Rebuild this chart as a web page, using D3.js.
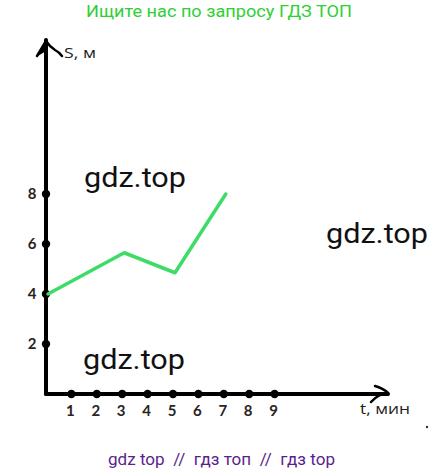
<!DOCTYPE html>
<html>
<head>
<meta charset="utf-8">
<script src="https://cdn.jsdelivr.net/npm/d3@7"></script>
<style>
  html, body { margin: 0; padding: 0; background: #fff; }
  svg { display: block; }
</style>
</head>
<body>
<svg id="chart" width="447" height="473"></svg>
<script>
// ---- data ----
const xTickValues = [1, 2, 3, 4, 5, 6, 7, 8, 9];
const xTickLabels = ["1", "2", "3", "4", "5", "6", "7", "8", "9"];
const yTickValues = [2, 4, 6, 8];
const yTickLabels = ["2", "4", "6", "8"];
const seriesT = [0, 3, 5, 7];
const seriesS = [4, 5.65, 4.85, 8];
const titleText = "Ищите нас по запросу ГДЗ ТОП";
const footerText = "gdz top  //  гдз топ  //  гдз top";
const watermarkText = "gdz.top";
const xAxisLabel = "t, мин";
const yAxisLabel = "S, м";

// ---- layout ----
const svg = d3.select("#chart");
const ox = 46, oy = 394;
const x = d3.scaleLinear().domain([0, 9]).range([ox, ox + 9 * 25.4]);
const y = d3.scaleLinear().domain([0, 8]).range([oy, oy - 8 * 25]);

// title
svg.append("text").attr("x", 86).attr("y", 17)
  .attr("font-family", "Roboto").attr("font-size", 17).attr("fill", "#2fcf35")
  .attr("textLength", 266).attr("lengthAdjust", "spacingAndGlyphs")
  .text(titleText);

// watermarks
[[84, 187], [326, 243], [83, 369]].forEach(([wx, wy]) => {
  svg.append("text").attr("x", wx).attr("y", wy)
    .attr("font-family", "Roboto").attr("font-size", 28).attr("fill", "#111")
    .attr("textLength", 102).attr("lengthAdjust", "spacingAndGlyphs")
    .text(watermarkText);
});

// axes lines
const axisG = svg.append("g").attr("stroke", "#000").attr("fill", "none")
  .attr("stroke-linecap", "round").attr("stroke-linejoin", "round");
axisG.append("line").attr("x1", ox).attr("y1", 40).attr("x2", ox).attr("y2", oy).attr("stroke-width", 4);
axisG.append("line").attr("x1", ox).attr("y1", oy).attr("x2", 388).attr("y2", oy).attr("stroke-width", 4);
// y arrow head
axisG.append("path").attr("d", "M46,41 L37,56 M46,41 Q50,47 55,50 Q59,52 62,56").attr("stroke-width", 2.5);
axisG.append("path").attr("d", "M46,44 L38,55 L46,50 Z").attr("fill", "#000").attr("stroke-width", 1.5);
// x arrow head
axisG.append("path").attr("d", "M375,386 Q383,388 388,393 M388,393 Q378,394 371,402").attr("stroke-width", 2.5);

// axis labels
svg.append("text").attr("x", 64).attr("y", 58).attr("font-family", "Open Sans")
  .attr("font-size", 14).attr("fill", "#222")
  .attr("textLength", 32).attr("lengthAdjust", "spacingAndGlyphs").text(yAxisLabel);
svg.append("text").attr("x", 360).attr("y", 414).attr("font-family", "Open Sans")
  .attr("font-size", 14.5).attr("fill", "#222")
  .attr("textLength", 50).attr("lengthAdjust", "spacingAndGlyphs").text(xAxisLabel);

// x ticks dots + labels
svg.append("g").selectAll("circle").data(xTickValues).join("circle")
  .attr("cx", d => x(d)).attr("cy", oy).attr("r", 4.2).attr("fill", "#000");
svg.append("g").selectAll("text").data(xTickValues).join("text")
  .attr("x", d => x(d) - 1).attr("y", 416).attr("text-anchor", "middle")
  .attr("font-family", "Lato").attr("font-weight", "bold").attr("font-size", 15)
  .attr("fill", "#2a2420").text((d, i) => xTickLabels[i]);

// y ticks dots + labels
svg.append("g").selectAll("circle").data(yTickValues).join("circle")
  .attr("cx", ox).attr("cy", d => y(d)).attr("r", 4.2).attr("fill", "#000");
svg.append("g").selectAll("text").data(yTickValues).join("text")
  .attr("x", 32).attr("y", d => y(d) + 5).attr("text-anchor", "middle")
  .attr("font-family", "Lato").attr("font-weight", "bold").attr("font-size", 15)
  .attr("fill", "#2a2420").text((d, i) => yTickLabels[i]);

// green series
const pts = seriesT.map((t, i) => [t, seriesS[i]]);
svg.append("path").datum(pts)
  .attr("d", d3.line().x(d => x(d[0]) + 2).y(d => y(d[1])))
  .attr("fill", "none").attr("stroke", "#3ddc68").attr("stroke-width", 3.5)
  .attr("stroke-linejoin", "round").attr("stroke-linecap", "round");

// stray dot
svg.append("circle").attr("cx", 427).attr("cy", 427).attr("r", 1.2).attr("fill", "#333");

// footer
svg.append("text").attr("x", 108).attr("y", 465)
  .attr("font-family", "Roboto").attr("font-size", 17).attr("fill", "#5a1f8e")
  .attr("textLength", 227).attr("lengthAdjust", "spacingAndGlyphs")
  .style("white-space", "pre")
  .text(footerText);
</script>
</body>
</html>
